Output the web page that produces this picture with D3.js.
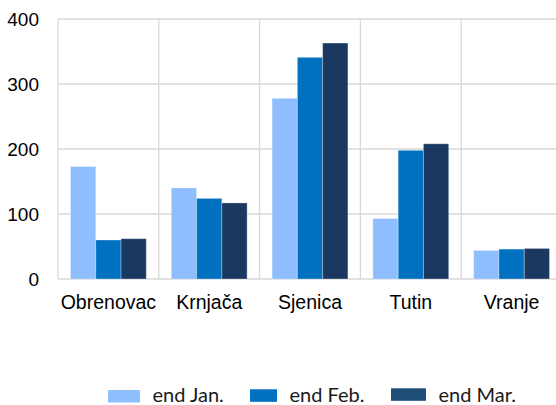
<!DOCTYPE html>
<html>
<head>
<meta charset="utf-8">
<script src="https://cdn.jsdelivr.net/npm/d3@7"></script>
<style>
  body { margin: 0; background: #fff; }
  svg { display: block; }
</style>
</head>
<body>
<svg id="chart" width="556" height="405"></svg>
<script>
// data
const cities = ["Obrenovac", "Krnjača", "Sjenica", "Tutin", "Vranje"]
const seriesNames = ["end Jan.", "end Feb.", "end Mar."]
const endJan = [173, 140, 278, 93, 44]
const endFeb = [60, 124, 341, 198, 46]
const endMar = [62, 117, 363, 208, 47]
const yTicks = [0, 100, 200, 300, 400]

const seriesValues = [endJan, endFeb, endMar]
const colors = ['#8fbeff', '#0070c0', '#1a3860']

const svg = d3.select('#chart')
const plotLeft = 58, plotRight = 562, plotTop = 19, plotBottom = 279

const x = d3.scaleBand().domain(cities).range([plotLeft, plotRight]).paddingInner(0).paddingOuter(0)
const xInner = d3.scaleBand().domain(seriesNames).range([12.5, x.bandwidth() - 12.5])
const y = d3.scaleLinear().domain([0, 400]).range([plotBottom, plotTop])

// horizontal grid
svg.append('g')
  .selectAll('line')
  .data(yTicks)
  .join('line')
    .attr('x1', plotLeft).attr('x2', plotRight)
    .attr('y1', d => y(d)).attr('y2', d => y(d))
    .attr('stroke', '#d9d9d9').attr('stroke-width', 1.3)

// vertical grid (band edges)
svg.append('g')
  .selectAll('line')
  .data(cities)
  .join('line')
    .attr('x1', d => x(d)).attr('x2', d => x(d))
    .attr('y1', plotTop).attr('y2', plotBottom)
    .attr('stroke', '#d9d9d9').attr('stroke-width', 1.3)

// bars
const groups = svg.append('g')
  .selectAll('g')
  .data(cities)
  .join('g')
    .attr('transform', d => `translate(${x(d)},0)`)

groups.selectAll('rect')
  .data((c, i) => seriesNames.map((s, j) => ({ s: s, v: seriesValues[j][i], j: j })))
  .join('rect')
    .attr('x', d => xInner(d.s))
    .attr('width', xInner.bandwidth())
    .attr('y', d => y(d.v))
    .attr('height', d => y(0) - y(d.v))
    .attr('fill', d => colors[d.j])
    .attr('stroke', 'rgba(255,255,255,0.3)')
    .attr('stroke-width', 1)

// y tick labels
svg.append('g')
  .selectAll('text')
  .data(yTicks)
  .join('text')
    .attr('x', 39)
    .attr('y', d => y(d))
    .attr('dy', '0.35em')
    .attr('text-anchor', 'end')
    .style('font-family', '"Liberation Sans", Arial, sans-serif')
    .style('font-size', '19px')
    .style('fill', '#000')
    .text(d => d)

// x labels
svg.append('g')
  .selectAll('text')
  .data(cities)
  .join('text')
    .attr('x', d => x(d) + x.bandwidth() / 2)
    .attr('y', 309)
    .attr('text-anchor', 'middle')
    .style('font-family', '"Liberation Sans", Arial, sans-serif')
    .style('font-size', '19.5px')
    .style('fill', '#000')
    .text(d => d)

// legend
const legendX = [108, 250, 391]
const swatchW = [32, 27, 35]
const swatchY = [390, 389.3, 388.3]
const legendG = svg.selectAll('.legend')
  .data(seriesNames)
  .join('g')
    .attr('class', 'legend')

legendG.append('rect')
  .attr('x', (d, i) => legendX[i])
  .attr('y', (d, i) => swatchY[i])
  .attr('width', (d, i) => swatchW[i])
  .attr('height', 12.5)
  .attr('fill', (d, i) => i == 2 ? '#1f4e79' : colors[i])

legendG.append('text')
  .attr('x', (d, i) => legendX[i] + swatchW[i] + 12.5)
  .attr('y', 402)
  .style('font-family', 'Lato, sans-serif')
  .style('font-size', '20px')
  .style('fill', '#1a1a1a')
  .text(d => d)
</script>
</body>
</html>
